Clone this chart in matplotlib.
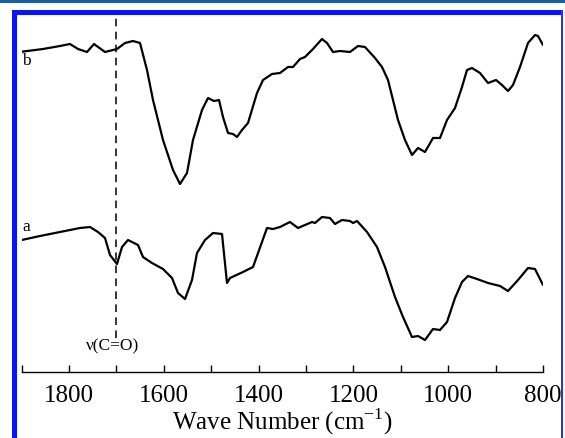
import matplotlib
matplotlib.use("Agg")
import matplotlib.pyplot as plt
from matplotlib.patches import Rectangle
import numpy as np

W, H = 565, 438
X0, X1 = 21.6, 543.0   # pixel span of axis
Y_AX, Y_TOP = 372.0, 15.0
WN0, WN1 = 1900.0, 800.0

def px2wn(px):
    return WN0 - (np.asarray(px) - X0) * (WN0 - WN1) / (X1 - X0)

# Spectrum b (upper): pixel x, pixel y
b_px = [21.7, 43, 60, 70, 78, 87, 94, 105, 117, 125, 133, 140, 147, 153, 163, 173, 180, 187, 193,
        202, 208, 214, 219, 223, 228, 233, 237, 242, 248, 257, 263, 272, 280, 288, 293, 300, 305,
        313, 322, 327, 333, 340, 350, 358, 365, 375, 382, 388, 393, 398, 405, 412, 418, 425, 433,
        440, 447, 455, 462, 467, 472, 480, 488, 496, 502, 508, 513, 520, 528, 535, 538, 543]
b_py = [51.7, 49, 46, 44, 49, 52, 44, 52, 49, 43, 41, 43, 70, 100, 140, 170, 184, 173, 140,
        110, 98, 101, 100, 117, 133, 134, 137, 130, 123, 93, 80, 74, 73, 67, 67, 59, 57,
        49, 39, 43, 52, 51, 52, 46, 47, 58, 67, 80, 100, 120, 140, 155, 148, 152, 138,
        138, 120, 108, 87, 70, 68, 73, 83, 80, 85, 91, 85, 67, 43, 35, 36, 45]

# Spectrum a (lower)
a_px = [21.7, 40, 60, 80, 90, 98, 105, 110, 117, 122, 128, 138, 143, 152, 163, 172, 178, 185, 192,
        197, 205, 213, 222, 227, 230, 243, 253, 262, 267, 273, 280, 290, 298, 305, 312, 315, 322,
        330, 335, 342, 350, 353, 357, 367, 377, 385, 395, 403, 412, 418, 425, 433, 440, 447, 455,
        462, 468, 477, 488, 500, 508, 518, 528, 535, 543]
a_py = [240, 236, 232, 228, 227, 232, 238, 255, 264, 247, 240, 245, 257, 263, 269, 278, 293, 299, 280,
        253, 240, 233, 234, 283, 278, 272, 267, 242, 228, 229, 227, 222, 228, 225, 222, 223, 217,
        218, 224, 220, 221, 223, 221, 232, 247, 267, 297, 317, 337, 336, 340, 329, 330, 322, 298,
        282, 276, 279, 283, 286, 291, 280, 268, 269, 285]

marker_wn = 1700
marker_label = "\u03bd(C=O)"
xticks = [1800, 1600, 1400, 1200, 1000, 800]
xlabel = "Wave Number (cm$^{\\mathregular{-1}}$)"

fig = plt.figure(figsize=(W / 100, H / 100), dpi=100)
ax = fig.add_axes([X0 / W, 1 - Y_AX / H, (X1 - X0) / W, (Y_AX - Y_TOP) / H])
ax.set_xlim(WN0, WN1)
ax.set_ylim(0, Y_AX - Y_TOP)

ax.plot(px2wn(b_px), Y_AX - np.array(b_py), color="black", lw=1.6,
        solid_joinstyle="round", solid_capstyle="round")
ax.plot(px2wn(a_px), Y_AX - np.array(a_py), color="black", lw=1.6,
        solid_joinstyle="round", solid_capstyle="round")

ax.plot([marker_wn, marker_wn], [Y_AX - 338, Y_AX - Y_TOP], color="black", lw=1.1,
        linestyle=(0, (5, 3.5)))
ax.text(marker_wn + 7, Y_AX - 346, marker_label, ha="center", va="center",
        fontsize=12.5, family="Liberation Serif")
ax.text(px2wn(22), Y_AX - 61, "b", ha="left", va="center", fontsize=12.5, family="Liberation Serif")
ax.text(px2wn(22), Y_AX - 227, "a", ha="left", va="center", fontsize=12.5, family="Liberation Serif")

for s in ["left", "right", "top"]:
    ax.spines[s].set_visible(False)
ax.spines["bottom"].set_linewidth(1.0)
ax.set_yticks([])
ax.set_xticks(xticks)
ax.set_xticks(np.arange(1900, 799, -100), minor=True)
ax.tick_params(axis="x", which="both", direction="in", length=5, width=1.0, pad=9)
for lab in ax.get_xticklabels():
    lab.set_family("Liberation Serif")
    lab.set_fontsize(18)
ax.set_xlabel(xlabel, fontsize=18, family="Liberation Serif", labelpad=0)

# decorative frame
fig.patches.append(Rectangle((0, 1 - 3 / H), 1, 3 / H, transform=fig.transFigure,
                             facecolor="#1f5c9c", edgecolor="none"))
fig.patches.append(Rectangle((12 / W, 0), 5 / W, 1 - 10 / H, transform=fig.transFigure,
                             facecolor="#0a14f0", edgecolor="none"))
fig.patches.append(Rectangle((12 / W, 1 - 15 / H), (563 - 12) / W, 5 / H, transform=fig.transFigure,
                             facecolor="#0a14f0", edgecolor="none"))
fig.patches.append(Rectangle((561 / W, 0), 2 / W, 1 - 10 / H, transform=fig.transFigure,
                             facecolor="#2a34f0", edgecolor="none"))

fig.savefig("out.png", dpi=100)
